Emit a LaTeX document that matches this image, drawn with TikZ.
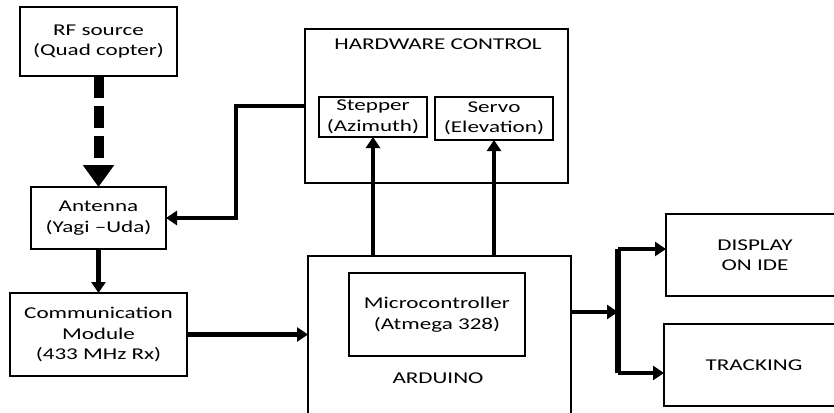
\documentclass[tikz,border=0pt]{standalone}
\usepackage{fontspec}
\setmainfont{Carlito}[FakeStretch=1.4]
\usetikzlibrary{positioning}
\usetikzlibrary{arrows.meta}
\tikzset{
	every node/.style={align=center,outer sep=0pt,inner sep=0pt,font=\fontsize{16.5}{20.5}\selectfont},
	block/.style={draw, line width=1.7pt},
	wire/.style={line width=4.3pt},
	arr/.style={wire, -{Triangle[length=11pt,width=14pt]}},
	radio/.style={line width=10pt, dash pattern=on 22pt off 8pt, -{Triangle[length=22pt,width=30pt]}}
}

\begin{document}
\begin{tikzpicture}[x=1pt,y=-1pt]
	\useasboundingbox (0,0) rectangle (834,412);
	\clip (0,0) rectangle (834,412);
	% Left column
	\node (rf) [block, minimum width=157pt, minimum height=69pt] at (98.5,41.5) {RF source\\(Quad copter)};
	\node (ant) [block, minimum width=135pt, minimum height=62pt, below = 111pt of rf] {Antenna\\(Yagi –Uda)};
	\node (com) [block, minimum width=177pt, minimum height=83pt, below = 44pt of ant] {Communication\\Module\\(433 MHz Rx)};
	
	% Arduino
	\node (ard) [block, minimum width=263pt, minimum height=180pt] at (439.5,346) {};
	\node (mcu) [block, minimum width=176pt, minimum height=83pt] at (437,314.5) {Microcontroller\\(Atmega 328)};
	\node (ardlbl) at (438,378.5) {ARDUINO};
	
	% Hardware control
	\node (hw) [block, minimum width=263pt, minimum height=154pt] at (436.5,106) {};
	\node (hwlbl) at (438,44) {HARDWARE CONTROL};
	\node (step) [block, minimum width=108pt, minimum height=40pt] at (373,117) {Stepper\\(Azimuth)};
	\node (servo) [block, minimum width=118pt, minimum height=43pt] at (494,118.5) {Servo\\(Elevation)};
	
	% Outputs
	\node (disp) [block, minimum width=178pt, minimum height=82pt] at (755,255) {DISPLAY\\ON IDE};
	\node (trk) [block, minimum width=180pt, minimum height=82pt] at (754,365) {TRACKING};
	
	\coordinate (j) at (618,312);
	\coordinate (jt) at (618,249);
	\coordinate (jb) at (618,373);
	
	\draw [radio] (rf) -- (ant);
	\draw [arr] (ant) -- (com);
	\draw [arr] (com.east) -- (com.east -| ard.west);
	\draw [arr] (hw.west) -- ++(-69,0) |- (ant.east);
	\draw [arr] (step.south |- ard.north) -- (step.south);
	\draw [arr] (servo.south |- ard.north) -- (servo.south);
	\draw [arr] (ard.east |- j) -- (j);
	\draw [wire, line width=5.5pt] (jt) -- (jb);
	\draw [arr] (jt) -- (jt -| disp.west);
	\draw [arr] (jb) -- (jb -| trk.west);
\end{tikzpicture}
\end{document}
